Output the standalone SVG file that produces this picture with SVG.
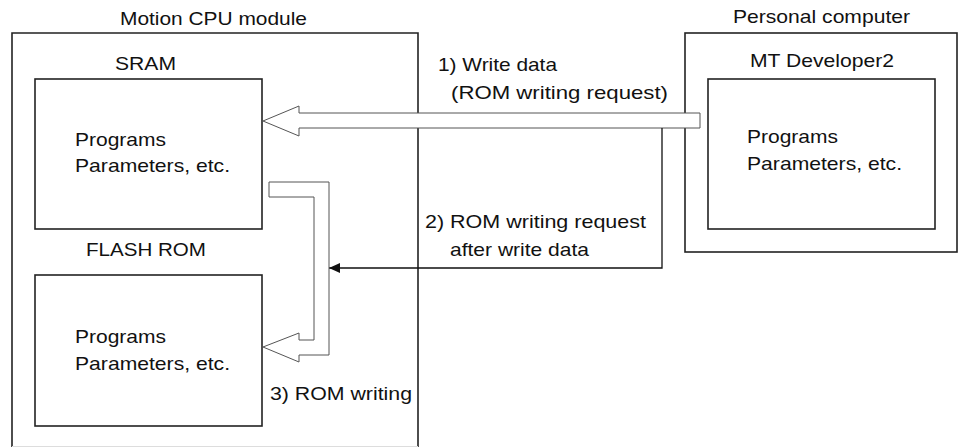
<svg xmlns="http://www.w3.org/2000/svg" width="959" height="448" viewBox="0 0 959 448">
<style>
.box{fill:none;stroke:#222;stroke-width:1.6}
.t{font-family:"Liberation Sans",Arial,sans-serif;font-size:18.5px;fill:#111}
.hollow{fill:#fff;stroke:#555;stroke-width:1}
.line{fill:none;stroke:#111;stroke-width:1.3}
</style>
<defs>
<marker id="ah" markerWidth="12" markerHeight="10" refX="11" refY="5" orient="auto" markerUnits="userSpaceOnUse">
<path d="M0,0 L11,5 L0,10 Z" fill="#111"/>
</marker>
</defs>
<rect width="959" height="448" fill="#fff"/>

<g id="motion-cpu">
<path class="box" d="M12,447 V33 H418 V447"/>
<line x1="12" y1="446.5" x2="418" y2="446.5" stroke="#ddd" stroke-width="1"/>
<text class="t" x="120" y="25" textLength="187" lengthAdjust="spacingAndGlyphs">Motion CPU module</text>
</g>

<g id="sram">
<rect class="box" x="35" y="79" width="227" height="150"/>
<text class="t" x="115" y="70" textLength="61" lengthAdjust="spacingAndGlyphs">SRAM</text>
<text class="t" x="75" y="146" textLength="91" lengthAdjust="spacingAndGlyphs">Programs</text>
<text class="t" x="75" y="172" textLength="155" lengthAdjust="spacingAndGlyphs">Parameters, etc.</text>
</g>

<g id="flash-rom">
<rect class="box" x="35" y="275" width="227" height="151"/>
<text class="t" x="86" y="256" textLength="120" lengthAdjust="spacingAndGlyphs">FLASH ROM</text>
<text class="t" x="75" y="343" textLength="91" lengthAdjust="spacingAndGlyphs">Programs</text>
<text class="t" x="75" y="370" textLength="155" lengthAdjust="spacingAndGlyphs">Parameters, etc.</text>
</g>

<g id="personal-computer">
<rect class="box" x="685" y="33" width="272" height="219"/>
<text class="t" x="733" y="23" textLength="177" lengthAdjust="spacingAndGlyphs">Personal computer</text>
</g>

<g id="mt-developer2">
<rect class="box" x="708" y="79" width="227" height="150"/>
<text class="t" x="750" y="67" textLength="144" lengthAdjust="spacingAndGlyphs">MT Developer2</text>
<text class="t" x="747" y="143" textLength="91" lengthAdjust="spacingAndGlyphs">Programs</text>
<text class="t" x="747" y="170" textLength="155" lengthAdjust="spacingAndGlyphs">Parameters, etc.</text>
</g>

<g id="connectors">
<polygon class="hollow" points="700,113 299,113 299,106 263,121 299,136 299,128 700,128"/>
<polyline class="line" points="662,128 662,268 329,268" marker-end="url(#ah)"/>
<polygon class="hollow" points="269,182 329,182 329,355 299,355 299,362 263,347 299,333 299,340 314,340 314,197 269,197"/>
<text class="t" x="438" y="71" textLength="119" lengthAdjust="spacingAndGlyphs">1) Write data</text>
<text class="t" x="451" y="99" textLength="217" lengthAdjust="spacingAndGlyphs">(ROM writing request)</text>
<text class="t" x="425" y="228" textLength="221" lengthAdjust="spacingAndGlyphs">2) ROM writing request</text>
<text class="t" x="450" y="256" textLength="139" lengthAdjust="spacingAndGlyphs">after write data</text>
<text class="t" x="270" y="400" textLength="142" lengthAdjust="spacingAndGlyphs">3) ROM writing</text>
</g>
</svg>
